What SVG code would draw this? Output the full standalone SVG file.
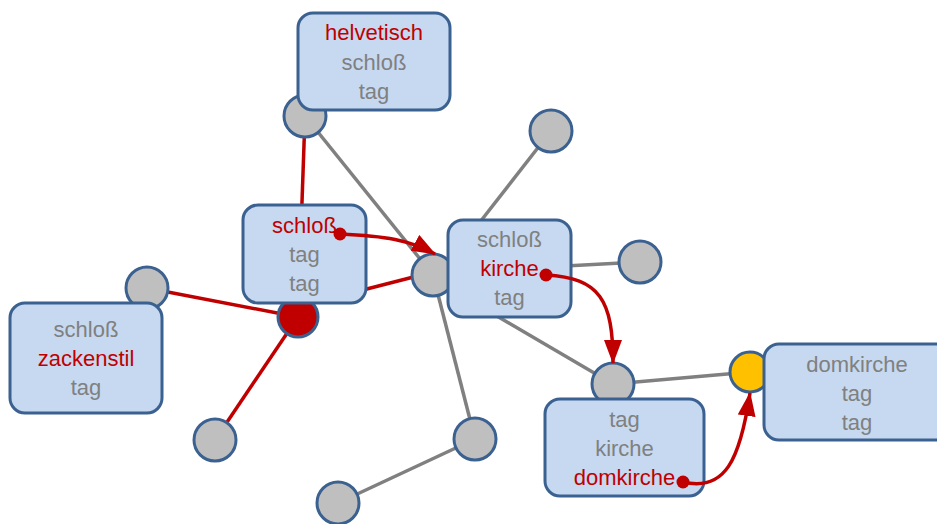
<svg xmlns="http://www.w3.org/2000/svg" width="937" height="524" viewBox="0 0 937 524">
<style>
.box{fill:#C6D9F0;stroke:#3B6190;stroke-width:3}
.dot{fill:#BFBFBF;stroke:#3B6190;stroke-width:3}
.g{stroke:#808080;stroke-width:3.5;fill:none}
.r{stroke:#C00000;stroke-width:3.5;fill:none}
.a{stroke:#C00000;stroke-width:3.5;fill:none;marker-end:url(#ah)}
text{font-family:"Liberation Sans",Arial,sans-serif;font-size:22px;text-anchor:middle;fill:#808080}
text.red{fill:#C00000}
</style>
<defs>
<marker id="ah" viewBox="0 0 24 18" refX="23" refY="9" markerWidth="24" markerHeight="18" markerUnits="userSpaceOnUse" orient="auto">
<path d="M0,0 L24,9 L0,18 z" fill="#C00000"/>
</marker>
</defs>
<g id="connectors">
<line class="g" x1="305" y1="116" x2="433" y2="275"/>
<line class="g" x1="433" y1="275" x2="475" y2="439"/>
<line class="g" x1="475" y1="439" x2="338" y2="503"/>
<line class="g" x1="551" y1="131" x2="480" y2="222"/>
<line class="g" x1="565" y1="266" x2="640" y2="262"/>
<line class="g" x1="490" y1="312" x2="613" y2="384"/>
<line class="g" x1="613" y1="384" x2="750" y2="372"/>
<line class="r" x1="305" y1="116" x2="298" y2="317"/>
<line class="r" x1="147" y1="288" x2="298" y2="317"/>
<line class="r" x1="298" y1="317" x2="215" y2="440"/>
<line class="r" x1="355" y1="292" x2="433" y2="272"/>
</g>
<g id="n-c1"><circle class="dot" cx="305" cy="116" r="21"/></g>
<g id="n-c2"><circle cx="298" cy="317" r="20" fill="#C00000" stroke="#3B6190" stroke-width="3"/></g>
<g id="n-c3"><circle class="dot" cx="433" cy="275" r="21"/></g>
<g id="n-c4"><circle class="dot" cx="551" cy="131" r="21"/></g>
<g id="n-c5"><circle class="dot" cx="640" cy="262" r="21"/></g>
<g id="n-c6"><circle class="dot" cx="613" cy="384" r="21"/></g>
<g id="n-c7"><circle cx="750" cy="372" r="20" fill="#FFC000" stroke="#3B6190" stroke-width="3"/></g>
<g id="n-c8"><circle class="dot" cx="147" cy="288" r="21"/></g>
<g id="n-c9"><circle class="dot" cx="215" cy="440" r="21"/></g>
<g id="n-c10"><circle class="dot" cx="475" cy="439" r="21"/></g>
<g id="n-c11"><circle class="dot" cx="338" cy="503" r="21"/></g>
<g id="n-helvetisch">
<rect class="box" x="298" y="13" width="152" height="97" rx="15"/>
<text class="red" x="374" y="40">helvetisch</text>
<text x="374" y="70">schloß</text>
<text x="374" y="99">tag</text>
</g>
<g id="n-schloss1">
<rect class="box" x="243" y="205" width="123" height="98" rx="15"/>
<text class="red" x="304.5" y="233">schloß</text>
<text x="304.5" y="262">tag</text>
<text x="304.5" y="291">tag</text>
</g>
<g id="n-kirche">
<rect class="box" x="448" y="220" width="123" height="97" rx="15"/>
<text x="509.5" y="247">schloß</text>
<text class="red" x="509.5" y="276">kirche</text>
<text x="509.5" y="305">tag</text>
</g>
<g id="n-domkirche1">
<rect class="box" x="545" y="399" width="159" height="97" rx="15"/>
<text x="624.5" y="427">tag</text>
<text x="624.5" y="456">kirche</text>
<text class="red" x="624.5" y="485">domkirche</text>
</g>
<g id="n-domkirche2">
<rect class="box" x="764" y="344" width="190" height="96" rx="15"/>
<text x="857" y="372">domkirche</text>
<text x="857" y="401">tag</text>
<text x="857" y="430">tag</text>
</g>
<g id="n-zackenstil">
<rect class="box" x="10" y="303" width="152" height="110" rx="15"/>
<text x="86" y="337">schloß</text>
<text class="red" x="86" y="366">zackenstil</text>
<text x="86" y="395">tag</text>
</g>
<g id="arrows">
<path class="a" d="M340,234 C385,236 410,240 435,254"/>
<circle cx="340" cy="234" r="6.5" fill="#C00000"/>
<path class="a" d="M546,275 C600,278 613,300 613,363"/>
<circle cx="546" cy="275" r="6.5" fill="#C00000"/>
<path class="a" d="M683,482 C725,492 740,460 750,393"/>
<circle cx="683" cy="482" r="6.5" fill="#C00000"/>
</g>
</svg>
